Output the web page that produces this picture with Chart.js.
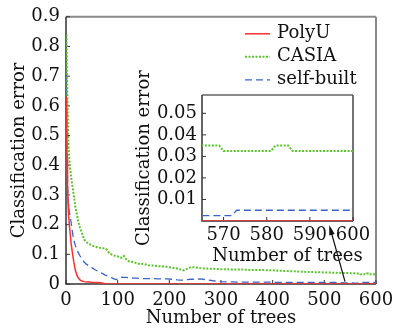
<!DOCTYPE html>
<html><head><meta charset="utf-8">
<script src="https://cdn.jsdelivr.net/npm/chart.js@4.4.1/dist/chart.umd.min.js"></script>
<style>
html,body{margin:0;padding:0;background:#fff;}
#wrap{position:relative;width:402px;height:332px;}
canvas{position:absolute;left:0;top:0;}
</style></head><body>
<div id="wrap"><canvas id="main" width="402" height="332"></canvas><canvas id="inset" width="402" height="332"></canvas></div>
<script>
// ---- data ----
const trees = [1,2,3,4,5,6,8,10,12,15, 18,21,24,27,31,35,40,45,50,57, 63,70,76,80,84,90,96,102,108,112,
  117,122,130,137,143,150,160,170,180,195, 205,215,222,228,235,242,250,259,270,285,
  300,320,340,360,380,400,420,440,460,480, 500,520,540,560,565,569,570,572,573,581, 582,585,586,600];
const polyU = [0.63,0.42,0.33,0.27,0.23,0.21,0.17,0.135,0.11,0.075, 0.047,0.03,0.02,0.014,0.01,0.008,0.007,0.007,0.006,0.005,
  0.005,0.003,0.001,0,0,0,0,0,0,0, 0,0,0,0,0,0,0,0,0,0, 0,0,0,0,0,0,0,0,0,0,
  0,0,0,0,0,0,0,0,0,0, 0,0,0,0,0,0,0,0,0,0, 0,0,0,0];
const casia = [0.84,0.70,0.60,0.52,0.46,0.43,0.39,0.36,0.335,0.30, 0.26,0.235,0.208,0.19,0.17,0.15,0.14,0.135,0.13,0.125,
  0.123,0.12,0.12,0.114,0.103,0.098,0.094,0.092,0.088,0.094, 0.082,0.076,0.074,0.07,0.067,0.068,0.063,0.062,0.06,0.058,
  0.055,0.052,0.049,0.046,0.052,0.057,0.056,0.054,0.052,0.051, 0.05,0.049,0.049,0.047,0.047,0.046,0.044,0.043,0.041,0.04,
  0.039,0.038,0.037,0.036,0.035,0.035,0.0325,0.0325,0.0325,0.0325, 0.035,0.035,0.0325,0.0325];
const selfBuilt = [0.70,0.45,0.34,0.29,0.26,0.245,0.23,0.205,0.18,0.148, 0.13,0.115,0.105,0.095,0.084,0.074,0.066,0.06,0.055,0.047,
  0.042,0.036,0.03,0.027,0.024,0.02,0.015,0.018,0.023,0.022, 0.022,0.021,0.02,0.02,0.019,0.018,0.018,0.018,0.017,0.017,
  0.016,0.014,0.013,0.013,0.015,0.016,0.016,0.017,0.015,0.011, 0.008,0.007,0.006,0.006,0.006,0.006,0.005,0.005,0.005,0.005,
  0.005,0.005,0.004,0.003,0.0025,0.0025,0.0025,0.0025,0.005,0.005, 0.005,0.005,0.005,0.005];
const seriesNames = ['PolyU','CASIA','self-built'];
const mainXTicks = [0,100,200,300,400,500,600];
const mainYTicks = [0,0.1,0.2,0.3,0.4,0.5,0.6,0.7,0.8,0.9];
const insetXTicks = [570,580,590,600];
const insetYTicks = [0.01,0.02,0.03,0.04,0.05];
const axisTitleX = 'Number of trees';
const axisTitleY = 'Classification error';
const arrowTail = [540, 0.008];   // main-plot data point the arrow starts from
const arrowHeadX = 594.5;         // inset x value the arrow points at

// ---- styles ----
const FONT = "'DejaVu Serif', serif";
const FS = 18;
const TXT = '#111';
function makeDatasets(){
  const cols = ['#ff3030','#5cc22e','#3b64c8'];
  const widths = [1.5,2,1.3];
  const dashes = [[],[2,1.5],[7,4]];
  return [polyU, casia, selfBuilt].map((arr,k)=>({
    label: seriesNames[k],
    data: trees.map((t,i)=>({x:t, y:arr[i]})),
    borderColor: cols[k], borderWidth: widths[k], borderDash: dashes[k],
    pointRadius: 0, fill: false, tension: 0
  }));
}
const framePlugin = {id:'frame', beforeDatasetsDraw(chart, args, opts){
  const {ctx, chartArea:a, scales} = chart;
  ctx.save();
  ctx.strokeStyle = opts.topColor; ctx.lineWidth = 2;
  ctx.beginPath(); ctx.moveTo(a.left, a.top); ctx.lineTo(a.right, a.top); ctx.stroke();
  ctx.strokeStyle = opts.rightColor; ctx.lineWidth = opts.rightWidth;
  ctx.beginPath(); ctx.moveTo(a.right, a.top); ctx.lineTo(a.right, a.bottom); ctx.stroke();
  ctx.strokeStyle = '#333'; ctx.lineWidth = 1.5;
  ctx.beginPath(); ctx.moveTo(a.left, a.top); ctx.lineTo(a.left, a.bottom); ctx.lineTo(a.right, a.bottom); ctx.stroke();
  ctx.lineWidth = 1; ctx.strokeStyle = '#333';
  ctx.beginPath();
  scales.x.ticks.forEach(t=>{const p=scales.x.getPixelForValue(t.value); ctx.moveTo(p,a.bottom); ctx.lineTo(p,a.bottom-4);});
  scales.y.ticks.forEach(t=>{const p=scales.y.getPixelForValue(t.value); ctx.moveTo(a.left,p); ctx.lineTo(a.left+4,p);});
  ctx.stroke();
  ctx.restore();
}};
const legendPlugin = {id:'lg', afterDraw(chart){
  const ctx = chart.ctx, a = chart.chartArea;
  const x0 = a.right - 131;
  const rows = [a.top+17, a.top+40, a.top+63];
  chart.data.datasets.forEach((ds,i)=>{
    ctx.save();
    ctx.strokeStyle = ds.borderColor; ctx.lineWidth = ds.borderWidth; ctx.setLineDash(ds.borderDash||[]);
    ctx.beginPath(); ctx.moveTo(x0, rows[i]); ctx.lineTo(x0+25, rows[i]); ctx.stroke();
    ctx.setLineDash([]);
    ctx.fillStyle = TXT; ctx.font = FS + 'px ' + FONT; ctx.textBaseline = 'middle';
    ctx.fillText(ds.label, x0+32, rows[i]);
    ctx.restore();
  });
}};

const main = new Chart(document.getElementById('main'), {
  type:'line',
  data:{datasets: makeDatasets()},
  options:{
    responsive:false, animation:false, devicePixelRatio:1,
    layout:{padding:{left:9, top:16, right:26, bottom:3}},
    plugins:{legend:{display:false}, tooltip:{enabled:false}, frame:{topColor:'#8a8a8a', rightColor:'#8a8a8a', rightWidth:2}},
    scales:{
      x:{type:'linear', min:0, max:600,
        afterBuildTicks: s=>{ s.ticks = mainXTicks.map(v=>({value:v})); },
        afterFit: s=>{ s.height = 45; },
        grid:{display:false, drawTicks:false}, border:{display:false},
        ticks:{padding:6, color:TXT, font:{family:FONT, size:FS}, maxRotation:0, autoSkip:false, callback:v=>String(v)},
        title:{display:true, text:axisTitleX, color:TXT, font:{family:FONT, size:FS}, padding:0}},
      y:{type:'linear', min:0, max:0.9,
        afterBuildTicks: s=>{ s.ticks = mainYTicks.map(v=>({value:v})); },
        afterFit: s=>{ s.width = 57; },
        grid:{display:false, drawTicks:false}, border:{display:false},
        ticks:{padding:6, color:TXT, font:{family:FONT, size:FS}, autoSkip:false, callback:v=> v===0 ? '0' : v.toFixed(1)},
        title:{display:true, text:axisTitleY, color:TXT, font:{family:FONT, size:FS}, padding:0}}
    }
  },
  plugins:[framePlugin, legendPlugin]
});

const insetExtras = {id:'insetExtras', afterDraw(chart){
  const ctx = chart.ctx, a = chart.chartArea;
  ctx.save();
  ctx.fillStyle = TXT; ctx.font = FS + 'px ' + FONT; ctx.textAlign = 'center'; ctx.textBaseline = 'middle';
  ctx.fillText(chart.options.scales.x.title.text, (a.left+a.right)/2 + 10, a.bottom + 35);
  // arrow from main plot to inset
  const tx = main.scales.x.getPixelForValue(arrowTail[0]);
  const ty = main.scales.y.getPixelForValue(arrowTail[1]);
  const hx = chart.scales.x.getPixelForValue(arrowHeadX);
  const hy = a.bottom + 4;
  const ang = Math.atan2(hy-ty, hx-tx);
  ctx.strokeStyle = '#111'; ctx.lineWidth = 1.2;
  ctx.beginPath(); ctx.moveTo(tx, ty); ctx.lineTo(hx - 6*Math.cos(ang), hy - 6*Math.sin(ang)); ctx.stroke();
  ctx.beginPath();
  ctx.moveTo(hx, hy);
  ctx.lineTo(hx - 10*Math.cos(ang) + 2.8*Math.sin(ang), hy - 10*Math.sin(ang) - 2.8*Math.cos(ang));
  ctx.lineTo(hx - 10*Math.cos(ang) - 2.8*Math.sin(ang), hy - 10*Math.sin(ang) + 2.8*Math.cos(ang));
  ctx.closePath(); ctx.fillStyle = '#111'; ctx.fill();
  ctx.restore();
}};

const inset = new Chart(document.getElementById('inset'), {
  type:'line',
  data:{datasets: makeDatasets()},
  options:{
    responsive:false, animation:false, devicePixelRatio:1,
    layout:{padding:{left:134, top:95, right:49, bottom:65}},
    plugins:{legend:{display:false}, tooltip:{enabled:false}, frame:{topColor:'#8a8a8a', rightColor:'#444', rightWidth:1.5}},
    scales:{
      x:{type:'linear', min:565, max:600,
        afterBuildTicks: s=>{ s.ticks = insetXTicks.map(v=>({value:v})); },
        afterFit: s=>{ s.height = 46; },
        grid:{display:false, drawTicks:false}, border:{display:false},
        ticks:{padding:4, color:TXT, font:{family:FONT, size:FS}, maxRotation:0, autoSkip:false, callback:v=>String(v)},
        title:{display:false, text:axisTitleX}},
      y:{type:'linear', min:0, max:0.0585,
        afterBuildTicks: s=>{ s.ticks = insetYTicks.map(v=>({value:v})); },
        afterFit: s=>{ s.width = 68; },
        grid:{display:false, drawTicks:false}, border:{display:false},
        ticks:{padding:5, color:TXT, font:{family:FONT, size:FS}, autoSkip:false, callback:v=> v.toFixed(2)},
        title:{display:true, text:axisTitleY, color:TXT, font:{family:FONT, size:FS}, padding:0}}
    }
  },
  plugins:[framePlugin, insetExtras]
});
</script>
</body></html>
